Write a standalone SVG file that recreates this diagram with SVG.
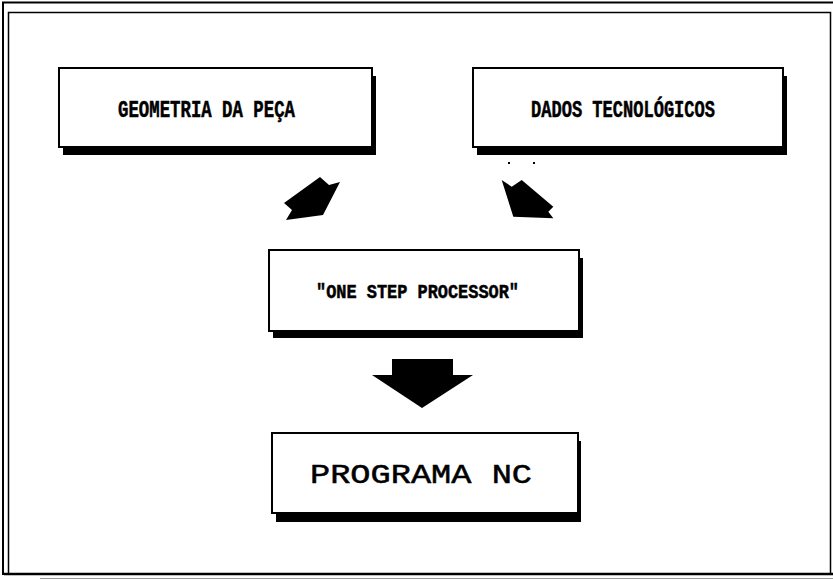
<svg xmlns="http://www.w3.org/2000/svg" width="833" height="581" viewBox="0 0 833 581">
<style>
.box{fill:#fff;stroke:#000;stroke-width:2}
.shadow{fill:#000}
.arrow{fill:#000}
.lbl{font-family:"Liberation Mono","DejaVu Sans Mono",monospace;font-weight:bold;fill:#000;stroke:#000;stroke-width:0.5}
.frame{fill:none;stroke:#000}
</style>
<rect width="833" height="581" fill="#fff"/>
<g id="frame">
<path class="frame" d="M3,575 V2.5 H833" stroke-width="2"/>
<path class="frame" d="M8.5,573 V12.5 H830.5 V573" stroke-width="1.5"/>
<line x1="4" y1="574" x2="833" y2="574" stroke="#000" stroke-width="2.5"/>
<line x1="40" y1="578.5" x2="833" y2="578.5" stroke="#999" stroke-width="1"/>
</g>
<g id="geometria">
<rect class="shadow" x="63" y="76" width="313" height="79"/>
<rect class="box" x="59" y="68" width="313" height="79"/>
<text class="lbl" x="118" y="117" font-size="23" textLength="177" lengthAdjust="spacingAndGlyphs">GEOMETRIA DA PEÇA</text>
</g>
<g id="dados">
<rect class="shadow" x="477" y="76" width="310" height="79"/>
<rect class="box" x="473" y="68" width="310" height="79"/>
<text class="lbl" x="531" y="117" font-size="23" textLength="184" lengthAdjust="spacingAndGlyphs">DADOS TECNOLÓGICOS</text>
</g>
<g id="processor">
<rect class="shadow" x="273" y="258" width="310" height="80"/>
<rect class="box" x="269" y="250" width="310" height="81"/>
<text class="lbl" x="316" y="298" font-size="20" textLength="203" lengthAdjust="spacingAndGlyphs">"ONE STEP PROCESSOR"</text>
</g>
<g id="programa">
<rect class="shadow" x="276" y="441" width="305" height="81"/>
<rect class="box" x="272" y="433" width="306" height="80"/>
<text class="lbl" x="310" y="483" font-size="27" textLength="222" lengthAdjust="spacingAndGlyphs" style="font-weight:normal;stroke-width:0.5">PROGRAMA NC</text>
</g>
<g id="connectors">
<polygon class="arrow" points="320,177 329,185 340,182 323,215 286,220 292,210 284,203"/>
<polygon class="arrow" points="501.7,180 511.7,186.7 521.7,180 553.3,206.7 548.3,211.7 553.3,218.3 513.3,216.7"/>
<polygon class="arrow" points="392,359 453,359 453,375 473,375 422,408 372,375 392,375"/>
</g>
<g id="specks">
<rect x="508" y="162" width="2" height="2" fill="#000"/>
<rect x="533" y="162" width="2" height="2" fill="#000"/>
</g>
</svg>
